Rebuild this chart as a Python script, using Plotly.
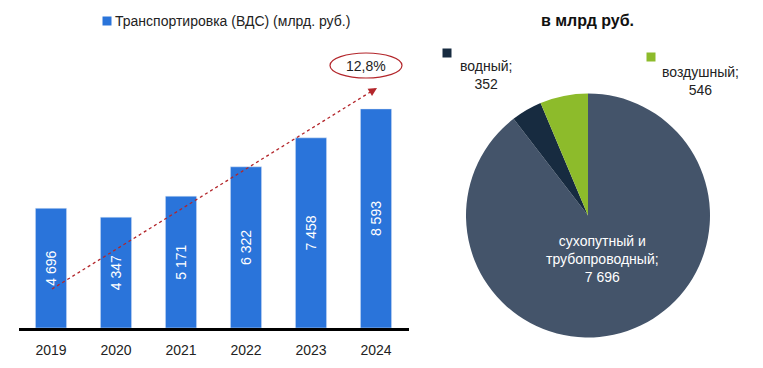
import plotly.graph_objects as go

W, H = 763, 368

years = ["2019", "2020", "2021", "2022", "2023", "2024"]
values = [4696, 4347, 5171, 6322, 7458, 8593]
value_labels = ["4 696", "4 347", "5 171", "6 322", "7 458", "8 593"]
series_name = "Транспортировка (ВДС) (млрд. руб.)"
cagr_label = "12,8%"

pie_labels = ["сухопутный и трубопроводный", "водный", "воздушный"]
pie_values = [7696, 352, 546]
pie_value_text = ["7 696", "352", "546"]
pie_colors = ["#44546A", "#172B40", "#8DBB2B"]
pie_title = "в млрд руб."

FONT = "Liberation Sans, Arial, sans-serif"
BLUE = "#2A74DA"
RED = "#B3262B"
TXT = "#222222"

def px(x):
    return x / W

def py(y):
    return 1 - y / H

fig = go.Figure()

fig.add_trace(go.Bar(
    x=years, y=values, name=series_name,
    marker=dict(color=BLUE), width=0.48,
    text=value_labels, textposition="inside", insidetextanchor="middle",
    textangle=-90, textfont=dict(color="white", size=14, family=FONT),
    showlegend=False, cliponaxis=False,
))

fig.add_trace(go.Pie(
    labels=pie_labels, values=pie_values, sort=False, direction="clockwise",
    rotation=0, marker=dict(colors=pie_colors, line=dict(width=0)),
    textinfo="none", showlegend=False,
    domain=dict(x=[px(466), px(710)], y=[py(338), py(93)]),
))

fig.update_layout(
    width=W, height=H, margin=dict(l=0, r=0, t=0, b=0),
    paper_bgcolor="white", plot_bgcolor="white",
    font=dict(family=FONT, size=14, color=TXT),
    xaxis=dict(domain=[px(18.5), px(408.5)], showline=True, linecolor="black",
               linewidth=3, ticks="", showgrid=False, zeroline=False,
               ticklabelstandoff=7,
               tickfont=dict(size=14, color=TXT), range=[-0.5, 5.5]),
    yaxis=dict(domain=[py(328), py(73)], range=[0, 10000], visible=False,
               showgrid=False, zeroline=False),
)

def note(x, y, text, color=TXT, size=14, xanchor="center"):
    fig.add_annotation(xref="paper", yref="paper", x=px(x), y=py(y),
                       xanchor=xanchor, yanchor="middle", text=text,
                       showarrow=False, font=dict(size=size, color=color, family=FONT))

def key(cx, cy, col, s=9):
    fig.add_shape(type="rect", xref="paper", yref="paper",
                  x0=px(cx - s / 2), x1=px(cx + s / 2),
                  y0=py(cy + s / 2), y1=py(cy - s / 2),
                  fillcolor=col, line=dict(width=0))

# bar legend
key(107, 21, BLUE)
note(113, 21, series_name, xanchor="left")

# growth arrow (dotted line + arrowhead)
x0, y0, x1, y1 = 52, 289, 377, 88
fig.add_shape(type="line", xref="paper", yref="paper",
              x0=px(x0), y0=py(y0), x1=px(x1 - 5), y1=py(y1 + 3),
              line=dict(color=RED, width=1.3, dash="dot"))
dx, dy = x1 - x0, y1 - y0
L = (dx ** 2 + dy ** 2) ** 0.5
fig.add_annotation(xref="paper", yref="paper", x=px(x1), y=py(y1),
                   ax=-dx / L * 9, ay=-dy / L * 9, axref="pixel", ayref="pixel",
                   showarrow=True, arrowhead=2, arrowsize=1.3, arrowwidth=1.3,
                   arrowcolor=RED, text="")
# ellipse with CAGR
fig.add_shape(type="circle", xref="paper", yref="paper",
              x0=px(330), x1=px(402), y0=py(78), y1=py(53),
              line=dict(color=RED, width=1.2), fillcolor="white")
note(366, 65.5, cagr_label)

# pie title
note(587, 20, "<b>" + pie_title + "</b>", color="#111111", size=16)

# pie labels
note(602, 259, "сухопутный и<br>трубопроводный;<br>" + pie_value_text[0], color="white")
note(486, 75, pie_labels[1] + ";<br>" + pie_value_text[1])
note(700, 81, pie_labels[2] + ";<br>" + pie_value_text[2])
key(447, 53, pie_colors[1])
key(651, 57, pie_colors[2])

fig.write_html("out.html", config={"displayModeBar": False},
               post_script="document.body.style.margin='0';")
